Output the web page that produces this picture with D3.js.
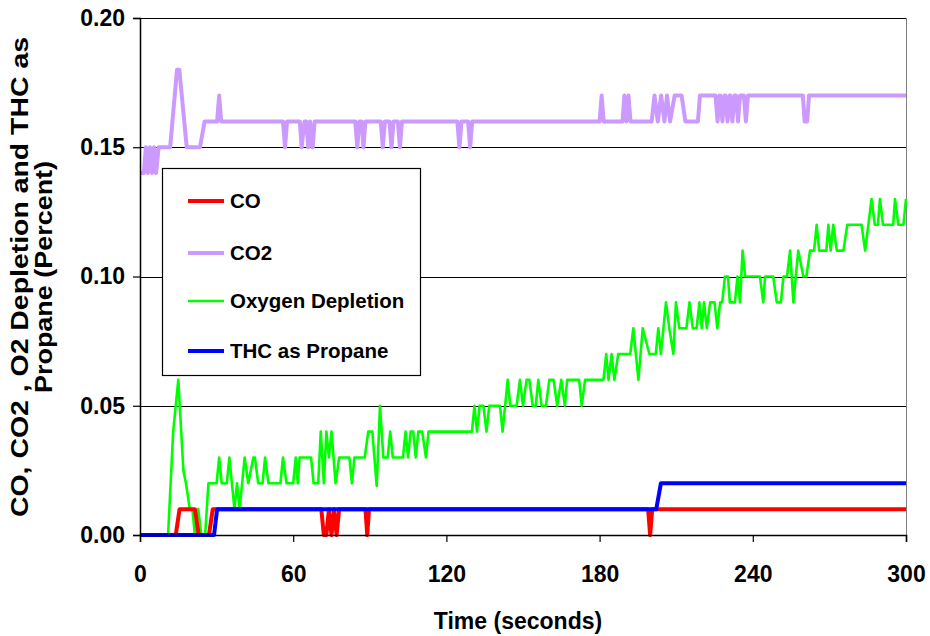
<!DOCTYPE html>
<html><head><meta charset="utf-8">
<script src="https://cdn.jsdelivr.net/npm/d3@7"></script>
<style>
body{margin:0;background:#fff;}
text{font-family:Arial,"Liberation Sans",sans-serif;font-weight:bold;fill:#000;}
</style></head>
<body><svg id="c" width="930" height="636"></svg>
<script>
// ---- data (time in seconds, value in percent) ----
const xTicks = [0, 60, 120, 180, 240, 300];
const yTicks = [0.00, 0.05, 0.10, 0.15, 0.20];
const seriesNames = ["CO", "CO2", "Oxygen Depletion", "THC as Propane"];
const seriesColors = ["#FF0000", "#CC99FF", "#00FF00", "#0000FF"];

const coTime  = [0, 14, 15.5, 21.5, 23, 27, 28.5, 71, 72, 73, 74, 75, 76, 77, 78, 88.3, 89, 89.7, 199, 199.8, 200.6, 300];
const coValue = [0, 0, 0.01, 0.01, 0, 0, 0.01, 0.01, 0, 0, 0.01, 0, 0.01, 0, 0.01, 0.01, 0, 0.01, 0.01, 0, 0.01, 0.01];

const co2Time  = [0, 1.5, 2.3, 3.1, 3.9, 4.7, 5.5, 6.3, 7.3, 11.8, 14.5, 15.4, 18.3, 23.5, 25.3, 30.2, 31, 31.8, 56, 56.8, 57.6,
  62.6, 63.3, 64.4, 65.1, 65.9, 66.6, 67.6, 68.4, 84.3, 85.1, 85.9, 86.8, 87.5, 88.3,
  94.3, 95.1, 95.9, 97.7, 98.5, 99.3, 101, 101.8, 102.6, 124.3, 125.1, 125.9, 128.5, 129.3, 130.1,
  180, 180.8, 181.6, 189, 189.7, 190.5, 191.3, 192.1, 200.4, 201.5, 202.8, 204.1, 205.4, 206.4, 207.6, 209.4, 212.1, 213.6, 218.5, 219.3,
  225.4, 226.2, 227, 227.3, 228.1, 228.9, 229.3, 230.1, 230.9, 231.2, 232, 232.8, 233.4, 234.2, 235, 236.5, 237.3, 238.1,
  259.6, 260.3, 261.3, 262, 300];
const co2Value = [0.14, 0.14, 0.15, 0.14, 0.15, 0.14, 0.15, 0.14, 0.15, 0.15, 0.18, 0.18, 0.15, 0.15, 0.16, 0.16, 0.17, 0.16, 0.16, 0.15, 0.16,
  0.16, 0.15, 0.16, 0.16, 0.15, 0.16, 0.15, 0.16, 0.16, 0.15, 0.16, 0.16, 0.15, 0.16,
  0.16, 0.15, 0.16, 0.16, 0.15, 0.16, 0.16, 0.15, 0.16, 0.16, 0.15, 0.16, 0.16, 0.15, 0.16,
  0.16, 0.17, 0.16, 0.16, 0.17, 0.16, 0.17, 0.16, 0.16, 0.17, 0.16, 0.17, 0.16, 0.17, 0.16, 0.17, 0.17, 0.16, 0.16, 0.17,
  0.17, 0.16, 0.17, 0.17, 0.16, 0.17, 0.17, 0.16, 0.17, 0.17, 0.16, 0.17, 0.17, 0.16, 0.17, 0.17, 0.16, 0.17,
  0.17, 0.16, 0.16, 0.17, 0.17];

const o2Time  = [0, 11, 13, 15, 17, 18, 19.5, 20.5, 21.5, 22.8, 24, 25.5, 26.8, 30, 31, 32, 34, 35, 37, 38, 39, 41, 42.4, 44.4, 45, 46.3, 48, 49, 50.3,
  55, 56, 57.4, 60, 61, 61.8, 62.5, 67, 68, 69.8, 70.8, 72, 73, 74, 75, 76.6, 78, 82, 83, 84, 88, 89.4, 91, 92.7, 94, 95.3, 97, 98, 99,
  103, 104, 105, 106, 107, 108, 109, 110.5, 112, 113, 130, 131, 132, 133, 134.5, 135.7, 136.8, 141, 142, 144, 145, 147.5, 148.8, 150, 151.4,
  152.5, 153.8, 155, 156, 157.3, 159, 160.3, 162, 163.4, 165, 166.4, 167.3, 172, 173, 174.3, 181.5, 182.6, 183.5, 184.7, 185.8, 187.3,
  192, 193.2, 195.2, 196.9, 199.5, 202, 203, 204, 206, 207.3, 208.9, 209.9, 211.2, 214, 215.2, 216.5, 218, 219.1, 220, 220.9, 222, 223.3,
  225, 226.1, 227.2, 228, 229.1, 230.3, 231, 233, 234, 235, 236, 237, 242.8, 244.1, 244.8, 248, 249.4, 251, 252, 253.4, 254.6, 255.9,
  257.8, 259.8, 261, 262.4, 264, 265, 266, 268.8, 269.6, 270.5, 271.5, 272.9, 275.5, 277, 282.6, 284, 286.5, 287.8, 289, 289.8, 291,
  295, 295.7, 297, 299, 300];
const o2Value = [0, 0, 0.04, 0.06, 0.025, 0.02, 0.01, 0.01, 0, 0.01, 0, 0, 0.02, 0.02, 0.03, 0.02, 0.02, 0.03, 0.01, 0.02, 0.01, 0.03, 0.02, 0.03, 0.03, 0.02, 0.02, 0.03, 0.02,
  0.02, 0.03, 0.02, 0.02, 0.03, 0.02, 0.03, 0.03, 0.02, 0.02, 0.04, 0.02, 0.04, 0.03, 0.04, 0.02, 0.03, 0.03, 0.02, 0.03, 0.03, 0.04, 0.04, 0.019, 0.05, 0.03, 0.03, 0.04, 0.03,
  0.03, 0.04, 0.03, 0.04, 0.04, 0.03, 0.04, 0.04, 0.03, 0.04, 0.04, 0.05, 0.04, 0.05, 0.05, 0.04, 0.05, 0.05, 0.04, 0.06, 0.05, 0.05, 0.06, 0.05, 0.06,
  0.06, 0.05, 0.05, 0.06, 0.05, 0.05, 0.06, 0.06, 0.05, 0.06, 0.05, 0.06, 0.06, 0.05, 0.06, 0.06, 0.07, 0.06, 0.07, 0.06, 0.07,
  0.07, 0.08, 0.06, 0.08, 0.07, 0.07, 0.08, 0.07, 0.09, 0.08, 0.07, 0.09, 0.08, 0.08, 0.09, 0.08, 0.08, 0.09, 0.08, 0.09, 0.08, 0.09,
  0.09, 0.08, 0.09, 0.09, 0.10, 0.10, 0.09, 0.09, 0.10, 0.09, 0.11, 0.10, 0.10, 0.09, 0.10, 0.10, 0.09, 0.09, 0.10, 0.10, 0.11, 0.09,
  0.11, 0.10, 0.10, 0.11, 0.11, 0.12, 0.11, 0.11, 0.12, 0.11, 0.12, 0.11, 0.11, 0.12, 0.12, 0.11, 0.13, 0.12, 0.12, 0.13, 0.12,
  0.12, 0.13, 0.12, 0.12, 0.13];

const thcTime  = [0, 29, 30.2, 202.2, 204, 300];
const thcValue = [0, 0, 0.01, 0.01, 0.02, 0.02];

// ---- chart ----
const svg = d3.select("#c");
const m = {left:140, right:906, top:18, bottom:535};
const x = d3.scaleLinear().domain([0,300]).range([m.left, m.right]);
const y = d3.scaleLinear().domain([0,0.2]).range([m.bottom, m.top]);

// gridlines
svg.append("g").selectAll("line").data(yTicks.filter(d=>d>0)).join("line")
  .attr("x1", m.left).attr("x2", m.right)
  .attr("y1", d=>Math.round(y(d))+0.5).attr("y2", d=>Math.round(y(d))+0.5)
  .attr("stroke", "#000").attr("stroke-width", 1);
// right border
svg.append("line").attr("x1", m.right+0.5).attr("x2", m.right+0.5).attr("y1", m.top).attr("y2", m.bottom)
  .attr("stroke", "#808080").attr("stroke-width", 1);

// series
const mk = (t, v) => t.map((d,i)=>[d, v[i]]);
const series = [mk(coTime, coValue), mk(co2Time, co2Value), mk(o2Time, o2Value), mk(thcTime, thcValue)];
const widths = [4, 4, 2.6, 4];
const line = d3.line().x(d=>x(d[0])).y(d=>y(d[1]));
const order = [1, 2, 0, 3];
order.forEach(i=>{
  svg.append("path").datum(series[i]).attr("d", line).attr("fill","none")
    .attr("stroke", seriesColors[i]).attr("stroke-width", widths[i]).attr("stroke-linejoin","round");
});

// axes
const xAxis = d3.axisBottom(x).tickValues(xTicks).tickSize(7).tickPadding(24).tickFormat(d3.format("d"));
const gx = svg.append("g").attr("transform", `translate(0,${m.bottom})`).call(xAxis);
const yAxis = d3.axisLeft(y).tickValues(yTicks).tickSize(7).tickPadding(8).tickFormat(d3.format(".2f"));
const gy = svg.append("g").attr("transform", `translate(${m.left},0)`).call(yAxis);
[gx, gy].forEach(g=>{
  g.select(".domain").attr("stroke","#000").attr("stroke-width",1.5);
  g.selectAll(".tick line").attr("stroke","#000").attr("stroke-width",1.2);
  g.selectAll("text").style("font-size","23px").style("font-family","Arial, 'Liberation Sans', sans-serif").style("font-weight","bold");
});

// axis titles
svg.append("text").attr("x", 518).attr("y", 629).attr("text-anchor","middle").style("font-size","23px").text("Time (seconds)");
const yt = svg.append("text").attr("transform","translate(28,277) rotate(-90)").attr("text-anchor","middle").style("font-size","24px");
yt.append("tspan").attr("x",0).attr("dy",0).attr("textLength",480).attr("lengthAdjust","spacingAndGlyphs")
  .text("CO, CO2 , O2 Depletion and THC as");
yt.append("tspan").attr("x",0).attr("dy",24).attr("textLength",232).attr("lengthAdjust","spacingAndGlyphs")
  .text("Propane (Percent)");

// legend
const lg = svg.append("g");
lg.append("rect").attr("x",162.5).attr("y",168.5).attr("width",258).attr("height",207)
  .attr("fill","#fff").attr("stroke","#000").attr("stroke-width",1.2);
const ly = [201, 253, 301, 351];
seriesNames.forEach((n,i)=>{
  lg.append("line").attr("x1",188).attr("x2",224).attr("y1",ly[i]).attr("y2",ly[i])
    .attr("stroke",seriesColors[i]).attr("stroke-width",widths[i]);
  lg.append("text").attr("x",230).attr("y",ly[i]+7).style("font-size","20.5px").text(n);
});
</script></body></html>
